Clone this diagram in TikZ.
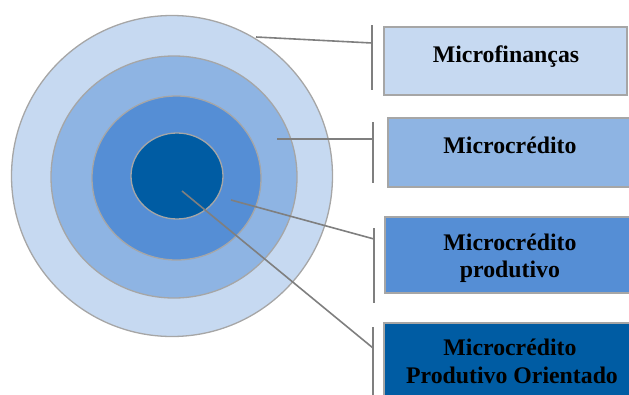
\documentclass[tikz,border=0pt]{standalone}
\usepackage{fontspec}
\setmainfont{Liberation Serif}
\definecolor{c1}{HTML}{C6D9F1}
\definecolor{c2}{HTML}{8EB4E3}
\definecolor{c3}{HTML}{558ED5}
\definecolor{c4}{HTML}{005CA3}
\definecolor{ringline}{HTML}{A6A6A6}
\definecolor{conline}{HTML}{7F7F7F}
\tikzset{
  ring/.style={draw=ringline, line width=1.3pt},
  boxstyle/.style={draw=ringline, line width=1.8pt},
  con/.style={draw=conline, line width=1.6pt},
  lbl/.style={anchor=base, inner sep=0pt, font=\fontsize{23.8}{28}\selectfont\bfseries, text=black}
}
\begin{document}
\begin{tikzpicture}[x=1pt,y=-1pt]
\useasboundingbox (0,0) rectangle (629,394);
\clip (0,0) rectangle (629,394);
% circles
\draw[ring, fill=c1] (172,176) circle (160.5);
\draw[ring, fill=c2] (174,177) ellipse [x radius=123, y radius=121];
\draw[ring, fill=c3] (176.5,178) ellipse [x radius=84.5, y radius=82];
\draw[ring, fill=c4] (177,176) ellipse [x radius=46, y radius=43];
% boxes
\draw[boxstyle, fill=c1] (384,27) rectangle (627,95);
\draw[boxstyle, fill=c2] (388,118) rectangle (633,187);
\draw[boxstyle, fill=c3] (385,217) rectangle (633,293);
\draw[boxstyle, fill=c4] (384,323) rectangle (633,400);
% labels
\node[lbl] (t1) at (506,62) {Microfinanças};
\node[lbl] (t2) at (510,153) {Microcrédito};
\node[lbl] (t3a) at (510,250) {Microcrédito};
\node[lbl] (t3b) at (510,277) {produtivo};
\node[lbl] (t4a) at (510,355) {Microcrédito};
\node[lbl] (t4b) at (512,383) {Produtivo Orientado};
% connector points
\coordinate (p1) at (256,37);   \coordinate (q1) at (372,43);
\coordinate (b1t) at (372,25);  \coordinate (b1b) at (372,90);
\coordinate (p2) at (277,139);  \coordinate (q2) at (373,139);
\coordinate (b2t) at (373,122); \coordinate (b2b) at (373,183);
\coordinate (p3) at (231,200);  \coordinate (q3) at (374,239);
\coordinate (b3t) at (374,228); \coordinate (b3b) at (374,303);
\coordinate (p4) at (182,191);  \coordinate (q4) at (373,348);
\coordinate (b4t) at (373,327); \coordinate (b4b) at (373,400);
\draw[con] (p1) -- (q1);
\draw[con] (b1t) -- (b1b);
\draw[con] (p2) -- (q2);
\draw[con] (b2t) -- (b2b);
\draw[con] (p3) -- (q3);
\draw[con] (b3t) -- (b3b);
\draw[con] (p4) -- (q4);
\draw[con] (b4t) -- (b4b);
\end{tikzpicture}
\end{document}
